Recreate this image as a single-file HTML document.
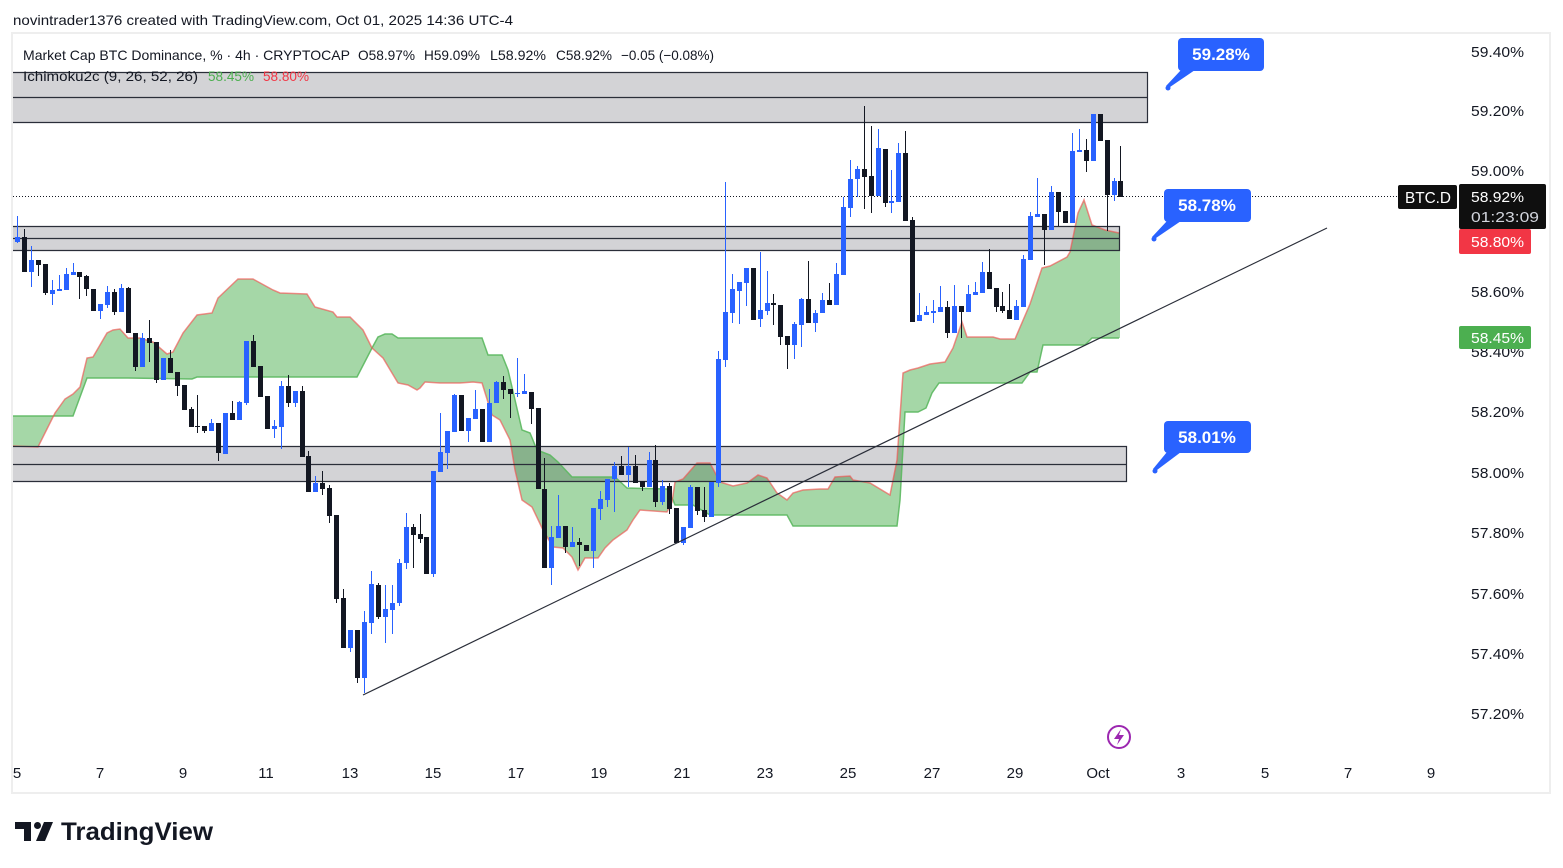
<!DOCTYPE html>
<html><head><meta charset="utf-8">
<style>
html,body{margin:0;padding:0;background:#fff;}
svg{display:block;font-family:"Liberation Sans",sans-serif;}
</style></head>
<body>
<svg id="s" width="1563" height="868" viewBox="0 0 1563 868" xmlns="http://www.w3.org/2000/svg">
<rect x="0" y="0" width="1563" height="868" fill="#ffffff"/>
<text x="13" y="25" font-size="14" fill="#131722" textLength="500" lengthAdjust="spacingAndGlyphs">novintrader1376 created with TradingView.com, Oct 01, 2025 14:36 UTC-4</text>
<rect x="12" y="33" width="1538" height="760" fill="none" stroke="#eeeeee" stroke-width="2"/>

<!-- zones -->
<g id="zones">
<rect x="13" y="72" width="1134" height="50" fill="#d3d3d6"/>
<rect x="13" y="226" width="1106" height="24" fill="#d3d3d6"/>
<rect x="13" y="446" width="1113" height="35" fill="#d3d3d6"/>
</g>
<g id="cloud"></g>
<g id="zonelines" stroke="#2a2e39" stroke-width="1.2" fill="none">
<path d="M13 72.5H1147.5V122.5H13 M13 97.5H1147.5"/>
<path d="M13 226.5H1119.5V250.5H13 M13 238.5H1119.5"/>
<path d="M13 446.5H1126.5V481.5H13 M13 464.5H1126.5"/>
</g>
<line x1="13" y1="196.5" x2="1398" y2="196.5" stroke="#131722" stroke-width="1" stroke-dasharray="1,2"/>
<g id="candles"></g>
<line x1="363" y1="695" x2="1327" y2="228" stroke="#2a2e39" stroke-width="1.2"/>

<!-- legend -->
<text x="23" y="60" font-size="14" fill="#131722" textLength="327" lengthAdjust="spacingAndGlyphs">Market Cap BTC Dominance, % · 4h · CRYPTOCAP</text>
<text x="358" y="60" font-size="14" fill="#131722" textLength="57" lengthAdjust="spacingAndGlyphs">O58.97%</text>
<text x="424" y="60" font-size="14" fill="#131722" textLength="56" lengthAdjust="spacingAndGlyphs">H59.09%</text>
<text x="490" y="60" font-size="14" fill="#131722" textLength="56" lengthAdjust="spacingAndGlyphs">L58.92%</text>
<text x="556" y="60" font-size="14" fill="#131722" textLength="56" lengthAdjust="spacingAndGlyphs">C58.92%</text>
<text x="621" y="60" font-size="14" fill="#131722" textLength="93" lengthAdjust="spacingAndGlyphs">−0.05 (−0.08%)</text>
<text x="23" y="81" font-size="14" fill="#131722" textLength="175" lengthAdjust="spacingAndGlyphs">Ichimoku2c (9, 26, 52, 26)</text>
<text x="208" y="81" font-size="14" fill="#4caf50" textLength="46" lengthAdjust="spacingAndGlyphs">58.45%</text>
<text x="263" y="81" font-size="14" fill="#f23645" textLength="46" lengthAdjust="spacingAndGlyphs">58.80%</text>

<!-- callouts -->
<g fill="#2962ff">
<rect x="1178" y="38" width="86" height="33" rx="4"/>
<polygon points="1181,70 1195,70 1170,87 1166,86"/>
<circle cx="1168" cy="88" r="2.5"/>
<rect x="1164" y="189" width="87" height="33" rx="4"/>
<polygon points="1167,221 1181,221 1156,238 1152,237"/>
<circle cx="1154" cy="239" r="2.5"/>
<rect x="1164" y="421" width="87" height="32" rx="4"/>
<polygon points="1167,452 1181,452 1157,470 1153,469"/>
<circle cx="1155" cy="471" r="2.5"/>
</g>
<g fill="#ffffff" font-size="17" font-weight="bold" text-anchor="middle">
<text x="1221" y="60">59.28%</text>
<text x="1207" y="211">58.78%</text>
<text x="1207" y="443">58.01%</text>
</g>

<!-- price axis -->
<g font-size="15" fill="#131722">
<text x="1471" y="57" textLength="53" lengthAdjust="spacingAndGlyphs">59.40%</text>
<text x="1471" y="116" textLength="53" lengthAdjust="spacingAndGlyphs">59.20%</text>
<text x="1471" y="176" textLength="53" lengthAdjust="spacingAndGlyphs">59.00%</text>
<text x="1471" y="297" textLength="53" lengthAdjust="spacingAndGlyphs">58.60%</text>
<text x="1471" y="357" textLength="53" lengthAdjust="spacingAndGlyphs">58.40%</text>
<text x="1471" y="417" textLength="53" lengthAdjust="spacingAndGlyphs">58.20%</text>
<text x="1471" y="478" textLength="53" lengthAdjust="spacingAndGlyphs">58.00%</text>
<text x="1471" y="538" textLength="53" lengthAdjust="spacingAndGlyphs">57.80%</text>
<text x="1471" y="599" textLength="53" lengthAdjust="spacingAndGlyphs">57.60%</text>
<text x="1471" y="659" textLength="53" lengthAdjust="spacingAndGlyphs">57.40%</text>
<text x="1471" y="719" textLength="53" lengthAdjust="spacingAndGlyphs">57.20%</text>
</g>
<rect x="1398" y="185" width="59" height="24" rx="2" fill="#0f0f0f"/>
<text x="1405" y="203" font-size="16" fill="#ffffff" textLength="46" lengthAdjust="spacingAndGlyphs">BTC.D</text>
<rect x="1459" y="184" width="87" height="45" rx="2" fill="#0f0f0f"/>
<text x="1471" y="202" font-size="15" fill="#ffffff" textLength="53" lengthAdjust="spacingAndGlyphs">58.92%</text>
<text x="1471" y="222" font-size="15" fill="#d1d4dc" textLength="68" lengthAdjust="spacingAndGlyphs">01:23:09</text>
<rect x="1459" y="229" width="72" height="25" rx="2" fill="#f23645"/>
<text x="1471" y="247" font-size="15" fill="#ffffff" textLength="53" lengthAdjust="spacingAndGlyphs">58.80%</text>
<rect x="1459" y="326" width="72" height="23" rx="2" fill="#4caf50"/>
<text x="1471" y="343" font-size="15" fill="#ffffff" textLength="53" lengthAdjust="spacingAndGlyphs">58.45%</text>

<!-- date axis -->
<g font-size="15" fill="#131722" text-anchor="middle">
<text x="17" y="778">5</text>
<text x="100" y="778">7</text>
<text x="183" y="778">9</text>
<text x="266" y="778">11</text>
<text x="350" y="778">13</text>
<text x="433" y="778">15</text>
<text x="516" y="778">17</text>
<text x="599" y="778">19</text>
<text x="682" y="778">21</text>
<text x="765" y="778">23</text>
<text x="848" y="778">25</text>
<text x="932" y="778">27</text>
<text x="1015" y="778">29</text>
<text x="1098" y="778">Oct</text>
<text x="1181" y="778">3</text>
<text x="1265" y="778">5</text>
<text x="1348" y="778">7</text>
<text x="1431" y="778">9</text>
</g>

<!-- lightning icon -->
<circle cx="1119" cy="737" r="11" fill="#fff" stroke="#9c27b0" stroke-width="2"/>
<polygon points="1121,729 1114,739 1119,739 1117,745 1124,735 1119,735" fill="#9c27b0"/>

<!-- TradingView logo -->
<polygon points="15,822 31,822 31,841 24,841 24,829 15,829" fill="#131722"/>
<circle cx="37.5" cy="825.5" r="3.5" fill="#131722"/>
<polygon points="44,822 53,822 45,841 36,841" fill="#131722"/>
<text x="61" y="840" font-size="25" font-weight="bold" fill="#131722" textLength="152" lengthAdjust="spacingAndGlyphs">TradingView</text>
</svg>
<script>
(function(){
var NS="http://www.w3.org/2000/svg";
function el(t,a,p){var e=document.createElementNS(NS,t);for(var k in a)e.setAttribute(k,a[k]);p.appendChild(e);return e;}
var G=[[13,416],[73,416],[87,378],[128,378],[192,379],[197,377],[357,377],[372,348],[378,337],[385,334],[392,334],[398,338],[482,338],[488,355],[502,355],[508,370],[522,430],[530,433],[537,450],[550,455],[558,462],[572,477],[615,477],[627,488],[667,489],[673,500],[675,505],[693,505],[710,515],[787,515],[793,526],[897,526],[900,500],[905,412],[918,412],[926,408],[932,393],[939,383],[1022,383],[1030,372],[1037,372],[1043,345],[1085,345],[1092,338],[1119,338]];
var R=[[13,446],[38,447],[45,433],[55,413],[65,399],[73,394],[80,387],[87,358],[93,357],[107,333],[113,330],[120,329],[128,338],[140,338],[153,342],[167,354],[173,352],[183,333],[197,315],[212,313],[218,298],[238,279],[253,279],[273,290],[280,293],[307,294],[315,307],[333,312],[337,317],[350,317],[363,330],[372,348],[383,358],[398,383],[408,385],[417,390],[420,388],[425,382],[440,383],[460,383],[473,382],[482,383],[492,415],[500,420],[510,440],[515,470],[522,500],[532,507],[543,530],[553,547],[563,548],[572,557],[578,570],[585,558],[598,558],[605,548],[613,540],[627,530],[633,520],[640,510],[667,512],[672,502],[675,482],[683,479],[697,463],[710,463],[720,482],[733,486],[747,483],[758,475],[767,478],[777,493],[787,500],[793,493],[803,490],[820,489],[828,489],[835,477],[850,476],[853,480],[870,483],[890,495],[897,460],[903,373],[910,370],[918,368],[930,364],[945,362],[953,348],[962,322],[967,337],[993,337],[1000,339],[1015,339],[1030,304],[1042,268],[1050,266],[1067,257],[1070,252],[1078,213],[1084,200],[1092,225],[1105,230],[1119,233]];
var cg=document.getElementById('cloud');
var pts=G.concat(R.slice().reverse()).map(function(p){return p.join(',');}).join(' ');
el('polygon',{points:pts,fill:'#a5d7a7',style:'mix-blend-mode:multiply'},cg);
el('polyline',{points:G.map(function(p){return p.join(',');}).join(' '),fill:'none',stroke:'#5cb860','stroke-width':'1.5','stroke-opacity':'0.9'},cg);
el('polyline',{points:R.map(function(p){return p.join(',');}).join(' '),fill:'none',stroke:'#ef5350','stroke-width':'1.5','stroke-opacity':'0.65'},cg);
el('line',{x1:1119.5,y1:233,x2:1119.5,y2:338,stroke:'#a5d7a7','stroke-width':1},cg);

var C=[
['B',237,242,216,243],['K',237,272,229,272],['B',260,272,246,287],['K',260,265,260,276],['K',264,293,264,295],
['B',290,294,280,305],['B',289,291,275,291],['B',274,290,268,290],['B',272,275,263,275],['K',272,277,272,299],
['K',276,289,275,296],['K',289,311,289,311],['B',304,311,304,319],['B',292,305,286,308],['K',292,312,289,315],
['B',288,312,284,312],['K',288,333,287,333],['K',333,367,333,371],['B',338,367,333,367],['K',338,343,320,362],
['K',342,380,342,383],['B',358,380,358,380],['K',358,373,350,373],['K',372,386,372,396],['K',385,410,385,410],
['K',409,427,407,427],['K',426,427,395,433],['K',426,431,426,433],['B',423,431,419,431],['K',423,453,423,461],
['B',413,454,413,454],['K',413,420,401,420],['B',402,420,401,420],['B',341,403,341,405],['K',341,367,335,367],
['K',366,397,366,397],['K',396,429,396,429],['B',426,429,420,438],['B',386,427,381,449],['K',386,403,375,407],
['B',391,403,391,407],['K',391,457,386,457],['K',456,492,451,492],['B',483,492,476,492],['K',483,489,471,495],
['K',488,516,485,523],['K',515,599,515,603],['K',598,648,589,648],['B',630,648,630,652],['K',630,678,630,683],
['B',622,678,611,693],['B',584,623,571,634],['K',585,617,583,619],['B',609,617,585,643],['B',603,610,585,634],
['B',563,603,559,606],['B',527,563,513,569],['K',527,535,524,568],['K',534,539,514,543],['K',537,574,537,574],
['B',471,574,471,577],['B',452,472,413,472],['B',431,453,431,469],['B',395,432,394,432],['K',395,431,395,431],
['B',418,431,418,442],['B',409,419,390,419],['K',409,442,409,442],['B',403,442,389,442],['B',382,403,381,403],
['K',382,390,376,399],['K',389,394,389,418],['B',393,394,358,397],['B',391,394,374,394],['K',392,409,392,424],
['K',408,489,408,489],['K',489,568,458,568],['B',537,568,526,585],['B',526,538,495,538],['K',526,547,526,553],
['B',542,547,527,547],['K',542,545,538,566],['K',545,551,545,551],['B',508,551,508,568],['B',499,509,491,520],
['B',479,500,479,507],['B',466,479,462,512],['K',466,475,456,475],['B',466,475,447,487],['K',466,483,455,483],
['K',481,487,481,491],['B',460,487,452,487],['K',460,502,445,507],['B',486,502,480,505],['K',486,509,483,514],
['K',508,543,508,543],['B',527,543,527,545],['B',487,528,485,528],['K',487,511,487,515],['K',510,517,487,522],
['B',482,517,482,517],['B',359,483,351,487],['B',312,360,182,367],['B',289,313,274,323],['B',282,291,282,324],
['B',268,283,268,306],['K',268,320,268,320],['B',310,319,252,327],['B',303,311,271,315],['K',303,305,294,325],
['K',305,337,305,345],['K',336,345,336,369],['B',324,345,322,359],['B',299,325,298,347],['K',299,323,261,323],
['B',313,323,310,332],['B',300,313,293,313],['K',300,305,283,305],['B',274,305,263,305],['B',207,275,197,275],
['B',179,208,160,217],['B',169,179,166,197],['K',169,177,106,209],['K',176,196,126,213],['B',148,196,129,196],
['K',149,203,149,207],['B',201,203,170,213],['B',153,202,143,202],['K',153,221,131,221],['K',220,322,217,322],
['B',315,321,293,321],['B',312,315,306,315],['B',311,313,300,323],['B',307,312,286,312],['K',307,333,301,338],
['B',306,333,285,333],['K',306,312,306,338],['B',294,312,285,312],['B',292,295,282,295],['B',272,293,262,293],
['K',272,289,249,289],['K',288,307,288,312],['K',306,311,292,313],['K',310,319,284,319],['B',306,320,300,320],
['B',259,307,255,307],['B',216,260,212,260],['B',214,217,178,217],['K',214,230,214,265],['B',192,230,186,230],
['K',192,212,192,226],['K',211,223,211,223],['B',151,223,133,223],['B',150,152,129,152],['K',150,161,139,172],
['B',114,161,114,161],['K',114,141,114,141],['K',140,195,140,231],['B',181,195,178,201],['K',181,197,146,197]
];
var g=document.getElementById('candles');
for(var i=0;i<C.length;i++){
 var c=C[i];var x=Math.round(17+i*6.94);
 var col=c[0]==='B'?'#2962ff':'#131722';
 el('rect',{x:x,y:c[3],width:1,height:Math.max(1,c[4]-c[3]),fill:col},g);
 el('rect',{x:x-2,y:c[1],width:5,height:Math.max(1,c[2]-c[1]),fill:col},g);
}
})();
</script>
</body></html>
